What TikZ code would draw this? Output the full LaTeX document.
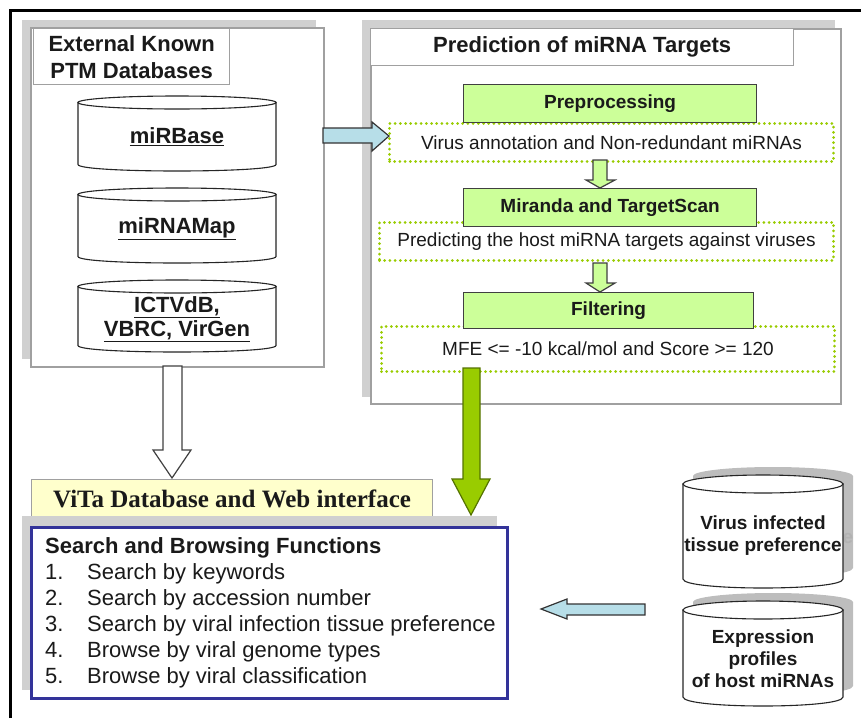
\documentclass[tikz,border=0pt]{standalone}
\usepackage{fontspec}
\setmainfont{Liberation Sans}
\newfontfamily\timesf{Liberation Serif}
\usetikzlibrary{calc}
\definecolor{panelgray}{HTML}{A0A0A0}
\definecolor{shadowgray}{HTML}{D0D0D0}
\definecolor{cylshadowgray}{HTML}{BDBDBD}
\definecolor{boxgreen}{HTML}{CCFF99}
\definecolor{dotgreen}{HTML}{99CC00}
\definecolor{biggreen}{HTML}{99CC00}
\definecolor{biggreendark}{HTML}{557300}
\definecolor{cyanfill}{HTML}{B7DEE8}
\definecolor{yellowfill}{HTML}{FFFFCC}
\definecolor{navyborder}{HTML}{333399}
\definecolor{txt}{HTML}{1A1A1A}
\newcommand\dbcyl[6]{%
  \path[#1] (#2,#4+#6) -- (#2,#5-#6) .. controls (#2,#5-#6+1.3333*#6) and (#3,#5-#6+1.3333*#6) .. (#3,#5-#6) -- (#3,#4+#6) -- cycle;
  \path[#1] ({(#2+#3)/2},{#4+#6}) ellipse [x radius={(#3-#2)/2}, y radius=#6];
}
\begin{document}
\begin{tikzpicture}[x=1pt,y=-1pt,
  shadowbox/.style={fill=shadowgray, draw=none, anchor=north west, inner sep=0pt},
  panel/.style={draw=panelgray, line width=1.5pt, fill=white, anchor=north west, inner sep=0pt},
  titlebox/.style={draw=panelgray, line width=1.3pt, fill=white, anchor=north west, inner sep=0pt, align=center, text=txt},
  greenbox/.style={draw=black!75, line width=1.2pt, fill=boxgreen, anchor=north west, inner sep=0pt, font=\fontsize{19}{22}\selectfont\bfseries, text=txt},
  dotbox/.style={draw=dotgreen, line width=3pt, dash pattern=on 0pt off 5.2pt, line cap=round, anchor=north west, inner sep=0pt, font=\fontsize{19}{22}\selectfont, text=txt},
  cylbody/.style={draw=black!85, line width=1.1pt, fill=white},
  cylshadow/.style={fill=cylshadowgray, draw=none},
  dbtext/.style={font=\fontsize{22}{23}\selectfont\bfseries, text=txt, align=center, inner sep=0pt},
  rdbtext/.style={font=\fontsize{19}{22}\selectfont\bfseries, text=txt, align=center, inner sep=0pt},
  blockarrow/.style={line width=1.2pt, line join=miter},
  itemtext/.style={font=\fontsize{22}{26}\selectfont, text=txt, anchor=base west, inner sep=0pt}
]
\useasboundingbox (0,0) rectangle (861,718);
% outer frame
\draw[line width=3pt, black] (10,718) -- (10,10) -- (861,10);

% ---------- left panel ----------
\node[shadowbox, minimum width=294pt, minimum height=339pt] (lshadow) at (22,20) {};
\node[panel, minimum width=293pt, minimum height=339pt] (lpanel) at (30,27) {};
\node[titlebox, minimum width=196pt, minimum height=56pt, font=\fontsize{22}{27}\selectfont\bfseries] (ltitle) at (33,28) {External Known\\PTM Databases};

\dbcyl{cylbody}{78}{276}{96}{171}{6.5}
\node[dbtext] (mirbase) at (177,137) {\underline{miRBase}};
\dbcyl{cylbody}{78}{276}{188}{263}{6.5}
\node[dbtext] (mirnamap) at (177,229) {\underline{miRNAMap}};
\dbcyl{cylbody}{78}{276}{280}{352}{6.5}
\node[dbtext] (ictv) at (177,307) {\underline{ICTVdB,}};
\node[dbtext] (vbrc) at (177,331) {\underline{VBRC, VirGen}};

% ---------- right panel ----------
\node[shadowbox, minimum width=473pt, minimum height=377pt] (rshadow) at (362,20) {};
\node[panel, minimum width=470pt, minimum height=375pt] (rpanel) at (370,28) {};
\node[titlebox, minimum width=423pt, minimum height=37pt, font=\fontsize{22}{26}\selectfont\bfseries] (rtitle) at (370,28) {Prediction of miRNA Targets};

\node[dotbox, minimum width=444pt, minimum height=38pt] (d1) at (388,122) {Virus annotation and Non-redundant miRNAs};
\node[dotbox, minimum width=454pt, minimum height=38pt] (d2) at (378,221) {Predicting the host miRNA targets against viruses};
\node[dotbox, minimum width=453pt, minimum height=45pt] (d3) at (380,325) {\raisebox{-1pt}{MFE <= -10 kcal/mol and Score >= 120}};

\node[greenbox, minimum width=293pt, minimum height=38pt] (pre) at (463,84) {Preprocessing};
\node[greenbox, minimum width=293pt, minimum height=38pt] (mir) at (463,188) {Miranda and TargetScan};
\node[greenbox, minimum width=290pt, minimum height=36pt] (filt) at (463,292) {Filtering};

% small arrows between steps
\draw[blockarrow, draw=black!75, fill=boxgreen] (593,160) -- (593,180) -- (586,180) -- (600,188) -- (615,180) -- (607,180) -- (607,160) -- cycle;
\draw[blockarrow, draw=black!75, fill=boxgreen] (593,263) -- (593,283) -- (586,283) -- (600,292) -- (615,283) -- (607,283) -- (607,263) -- cycle;

% cyan arrow left panel -> preprocessing
\draw[blockarrow, draw=black!80, fill=cyanfill] (323,128) -- (372,128) -- (372,122) -- (389,136) -- (372,151) -- (372,143) -- (323,143) -- cycle;

% white arrow down
\draw[blockarrow, draw=black!75, fill=white] (163,366) -- (163,450) -- (153,450) -- (172,478) -- (191,450) -- (182,450) -- (182,366) -- cycle;

% big green arrow
\draw[blockarrow, draw=biggreendark, fill=biggreen] (463,368) -- (463,479) -- (452,479) -- (471,515) -- (490,479) -- (480,479) -- (480,368) -- cycle;

% ---------- ViTa ----------
\node[draw=panelgray, line width=1.2pt, fill=yellowfill, anchor=north west, inner sep=0pt, minimum width=401pt, minimum height=38pt, font=\timesf\fontsize{25}{28}\selectfont\bfseries, text=txt] (vita) at (31,479) {ViTa Database and Web interface};

\node[shadowbox, minimum width=475pt, minimum height=174pt] (sshadow) at (22,516) {};
\node[draw=navyborder, line width=2.5pt, fill=white, anchor=north west, inner sep=0pt, minimum width=476pt, minimum height=171pt] (search) at (30,526) {};
\node[itemtext, font=\fontsize{22}{26}\selectfont\bfseries] (stitle) at (45,553) {Search and Browsing Functions};
\node[itemtext] (n1) at (45,579) {1.};
\node[itemtext] (i1) at (87,579) {Search by keywords};
\node[itemtext] (n2) at (45,605) {2.};
\node[itemtext] (i2) at (87,605) {Search by accession number};
\node[itemtext] (n3) at (45,631) {3.};
\node[itemtext] (i3) at (87,631) {Search by viral infection tissue preference};
\node[itemtext] (n4) at (45,657) {4.};
\node[itemtext] (i4) at (87,657) {Browse by viral genome types};
\node[itemtext] (n5) at (45,683) {5.};
\node[itemtext] (i5) at (87,683) {Browse by viral classification};

% ---------- right cylinders ----------
\dbcyl{cylshadow}{693}{853}{467}{577}{9}
\node[font=\fontsize{19}{22}\selectfont\bfseries, text=black!30, inner sep=0pt] (shadowe) at (848,538) {e};
\dbcyl{cylbody}{683}{843}{475}{588}{9}
\node[rdbtext] (tissue) at (763,536) {Virus infected\\tissue preference};
\dbcyl{cylshadow}{693}{853}{593}{695}{9}
\dbcyl{cylbody}{683}{843}{601}{706}{9}
\node[rdbtext] (expr) at (763,659) {Expression\\profiles\\of host miRNAs};

% cyan arrow left
\draw[blockarrow, draw=black!80, fill=cyanfill] (645,604) -- (567,604) -- (567,599) -- (541,609) -- (567,619) -- (567,615) -- (645,615) -- cycle;
\end{tikzpicture}
\end{document}
